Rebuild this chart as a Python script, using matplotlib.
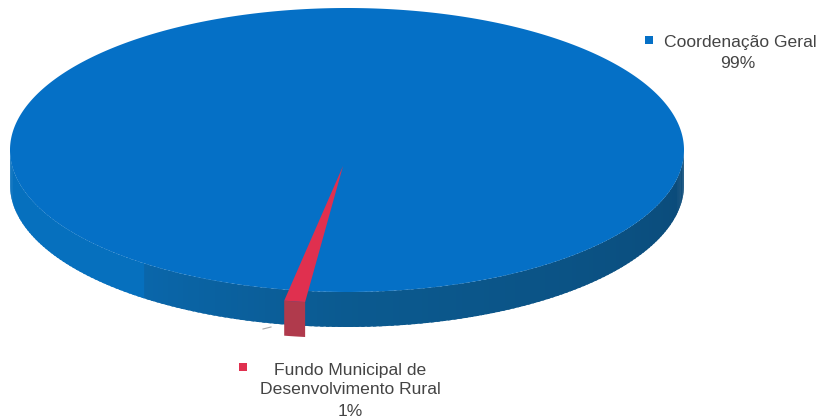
import numpy as np
import matplotlib
matplotlib.use('Agg')
import matplotlib.pyplot as plt
from matplotlib.colors import to_rgb
from matplotlib.patches import Polygon

categories = ['Coordenação Geral', 'Fundo Municipal de\nDesenvolvimento Rural']
shares = [99, 1]

W, H = 822, 418
CX, CY = 347, 150      # centre of top face
RX, RY = 337, 142
DEPTH = 35
BLUE = '#0570c6'
WALL_RIGHT, WALL_FRONT, WALL_MID, WALL_LEFT = '#0b4a78', '#0b5a90', '#0a66aa', '#0670be'
RED, RED_DARK = '#e0304f', '#b03a4c'
TEXT = '#444444'

fig = plt.figure(figsize=(W / 100, H / 100), dpi=100)
ax = fig.add_axes([0, 0, 1, 1])
ax.set_xlim(0, W)
ax.set_ylim(H, 0)
ax.axis('off')

red_sweep = 2 * np.pi * shares[1] / sum(shares)
start = np.pi / 2 + 0.15 - red_sweep / 2
stop = start + red_sweep


def rim(a):
    a = np.asarray(a)
    return np.column_stack([CX + RX * np.cos(a), CY + RY * np.sin(a)])


def mix(c1, c2, t):
    return tuple((1 - t) * np.array(to_rgb(c1)) + t * np.array(to_rgb(c2)))


def wall_colour(a):
    if a < np.pi / 2:
        return mix(WALL_RIGHT, WALL_FRONT, a / (np.pi / 2))
    if a < 2.2:
        return mix(WALL_FRONT, WALL_MID, (a - np.pi / 2) / (2.2 - np.pi / 2))
    return WALL_LEFT


# side wall, shaded in small strips from right to left
edges = np.linspace(0, np.pi, 181)
for a0, a1 in zip(edges[:-1], edges[1:]):
    strip = rim(np.linspace(a0, a1 + 0.01, 4))
    ax.add_patch(Polygon(np.vstack([strip, (strip + [0, DEPTH])[::-1]]), color=wall_colour(a0), lw=0))

# top face
a_face = np.linspace(0, 2 * np.pi, 720)
ax.add_patch(Polygon(rim(a_face), color=BLUE, lw=0))

# small slice, pulled out a bit from the pie
shift = np.array([-2, 11])
a_red = np.linspace(start, stop, 20)
top = rim(a_red) + shift
ax.add_patch(Polygon(np.vstack([top, (top + [0, DEPTH])[::-1]]), color=RED_DARK, lw=0))
ax.add_patch(Polygon(np.vstack([[CX - 4, CY + 16], top]), color=RED, lw=0))

# leader stub under the pie
ax.plot([263, 271], [329, 327], color='#aaaaaa', lw=0.8)

# labels
font = dict(fontsize=12.6, family='Liberation Sans', color=TEXT, va='center')
ax.text(664, 42, categories[0], ha='left', **font)
ax.text(738, 63, '%d%%' % shares[0], ha='center', **font)
ax.plot([649], [40], 's', ms=6, color=BLUE, mew=0)

lines = categories[1].split('\n')
ax.text(350, 370, lines[0], ha='center', **font)
ax.text(350, 390, lines[1], ha='center', **font)
ax.text(350, 411, '%d%%' % shares[1], ha='center', **font)
ax.plot([243], [367], 's', ms=6, color=RED, mew=0)

fig.savefig('out.png', dpi=100)
